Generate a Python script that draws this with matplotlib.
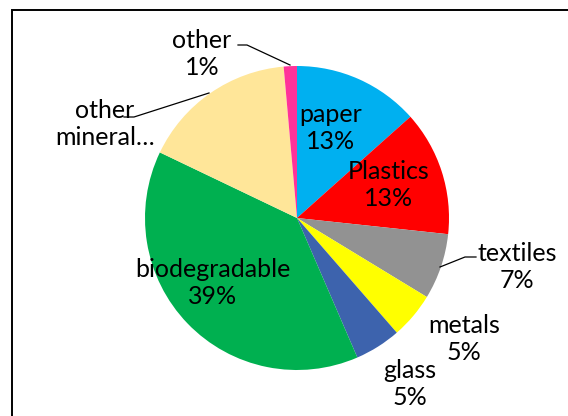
import matplotlib
matplotlib.use("Agg")
import matplotlib.pyplot as plt
from matplotlib.patches import Rectangle

# waste composition (share of total, %)
names = ["paper", "Plastics", "textiles", "metals", "glass",
         "biodegradable", "other\nmineral\u2026", "other"]
shares = [13.4, 13.3, 7.0, 4.9, 4.9, 38.6, 16.5, 1.4]
colors = ["#00B0F0", "#FF0000", "#929292", "#FFFF00", "#3D63AD",
          "#00B050", "#FFE699", "#FF3399"]
show_pct = [True, True, True, True, True, True, False, True]

# label anchor points in pixels (x from left, y from top)
lab_xy = [(331, 128), (389, 185), (517, 267), (464, 339), (410, 384),
          (213, 283), (105, 124), (202, 54)]
# leader lines for the outside labels: (start, elbow, end) in pixels
leaders = {
    2: [(476, 257), (465, 257), (440, 267)],
    6: [(124, 117), (134, 117), (209, 93)],
    7: [(238, 45), (247, 45), (290, 65)],
}

W, H = 568, 416
fig = plt.figure(figsize=(W / 100, H / 100), dpi=100)
ax = fig.add_axes([0, 0, 1, 1])

ax.pie(shares, colors=colors, startangle=90, counterclock=False,
       center=(297, H - 218), radius=152, frame=True,
       wedgeprops=dict(linewidth=0))
ax.set_xlim(0, W)
ax.set_ylim(0, H)
ax.set_aspect("equal")
ax.axis("off")

font = dict(family="Lato", fontsize=18, color="black",
            ha="center", va="center", linespacing=1.17)
for i, (nm, v) in enumerate(zip(names, shares)):
    txt = f"{nm}\n{v:.0f}%" if show_pct[i] else nm
    x, y = lab_xy[i]
    ax.text(x, H - y, txt, **font)

for i, pts in leaders.items():
    xs = [p[0] for p in pts]
    ys = [H - p[1] for p in pts]
    ax.plot(xs, ys, color="black", lw=0.9)

# chart area border, running off the right and bottom edges
fig.patches.append(Rectangle((12 / W, -0.1), 1.2, (H - 10) / H + 0.1,
                             transform=fig.transFigure, fill=False,
                             edgecolor="black", lw=1.4))

fig.savefig("out.png", dpi=100, facecolor="white")
